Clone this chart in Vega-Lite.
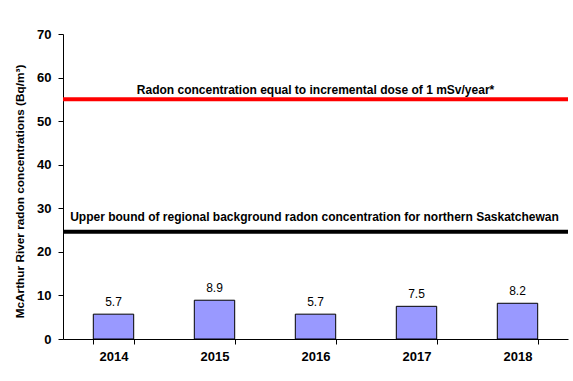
{
  "$schema": "https://vega.github.io/schema/vega-lite/v6.json",
  "width": 505,
  "height": 305,
  "autosize": {"type": "none"},
  "padding": {"left": 63, "top": 34, "right": 5, "bottom": 42},
  "background": "white",
  "config": {"view": {"stroke": null}, "font": "Liberation Sans"},
  "layer": [
    {
      "data": {"values": [
        {"year": "2014", "value": 5.7},
        {"year": "2015", "value": 8.9},
        {"year": "2016", "value": 5.7},
        {"year": "2017", "value": 7.5},
        {"year": "2018", "value": 8.2}
      ]},
      "layer": [
        {
          "mark": {"type": "bar", "fill": "#9999FF", "stroke": "#000000", "strokeWidth": 1},
          "encoding": {
            "x": {"field": "year", "type": "nominal", "sort": null,
              "scale": {"paddingInner": 0.6, "paddingOuter": 0.3},
              "axis": {"title": null, "labelAngle": 0, "tickBand": "extent", "tickSize": 5,
                "labelPadding": 6, "labelFontSize": 13, "labelFontWeight": "bold", "labelColor": "#000000",
                "domainColor": "#000000", "tickColor": "#000000", "labelFont": "Liberation Sans"}},
            "y": {"field": "value", "type": "quantitative",
              "scale": {"domain": [0, 70], "nice": false},
              "axis": {"title": "McArthur River radon concentrations (Bq/m³)", "values": [0, 10, 20, 30, 40, 50, 60, 70],
                "grid": false, "tickSize": 5, "labelPadding": 7, "labelFontSize": 13, "labelFontWeight": "bold",
                "labelColor": "#000000", "domainColor": "#000000", "tickColor": "#000000",
                "titleFontSize": 11.8, "titleFontWeight": "bold", "titleColor": "#000000", "titlePadding": 11, "titleY": 157,
                "labelFont": "Liberation Sans", "titleFont": "Liberation Sans"}}
          }
        },
        {
          "mark": {"type": "text", "baseline": "alphabetic", "dy": -8, "fontSize": 12, "color": "#000000", "font": "Liberation Sans"},
          "encoding": {
            "x": {"field": "year", "type": "nominal", "sort": null},
            "y": {"field": "value", "type": "quantitative"},
            "text": {"field": "value", "type": "quantitative", "format": ".1f"}
          }
        }
      ]
    },
    {
      "data": {"values": [{"value": 55, "label": "Radon  concentration equal to incremental dose of 1 mSv/year*"}]},
      "layer": [
        {"mark": {"type": "rule", "color": "#FF0000", "strokeWidth": 4},
         "encoding": {"y": {"field": "value", "type": "quantitative"}}},
        {"mark": {"type": "text", "baseline": "alphabetic", "dy": -5, "fontSize": 12, "fontWeight": "bold", "color": "#000000", "font": "Liberation Sans"},
         "encoding": {"x": {"datum": "2016", "type": "nominal"}, "y": {"field": "value", "type": "quantitative"}, "text": {"field": "label"}}}
      ]
    },
    {
      "data": {"values": [{"value": 24.6, "label": "Upper bound of regional background radon concentration for northern Saskatchewan"}]},
      "layer": [
        {"mark": {"type": "rule", "color": "#000000", "strokeWidth": 4},
         "encoding": {"y": {"field": "value", "type": "quantitative"}}},
        {"mark": {"type": "text", "baseline": "alphabetic", "dy": -11, "dx": -1, "fontSize": 12, "fontWeight": "bold", "color": "#000000", "font": "Liberation Sans"},
         "encoding": {"x": {"datum": "2016", "type": "nominal"}, "y": {"field": "value", "type": "quantitative"}, "text": {"field": "label"}}}
      ]
    }
  ]
}
